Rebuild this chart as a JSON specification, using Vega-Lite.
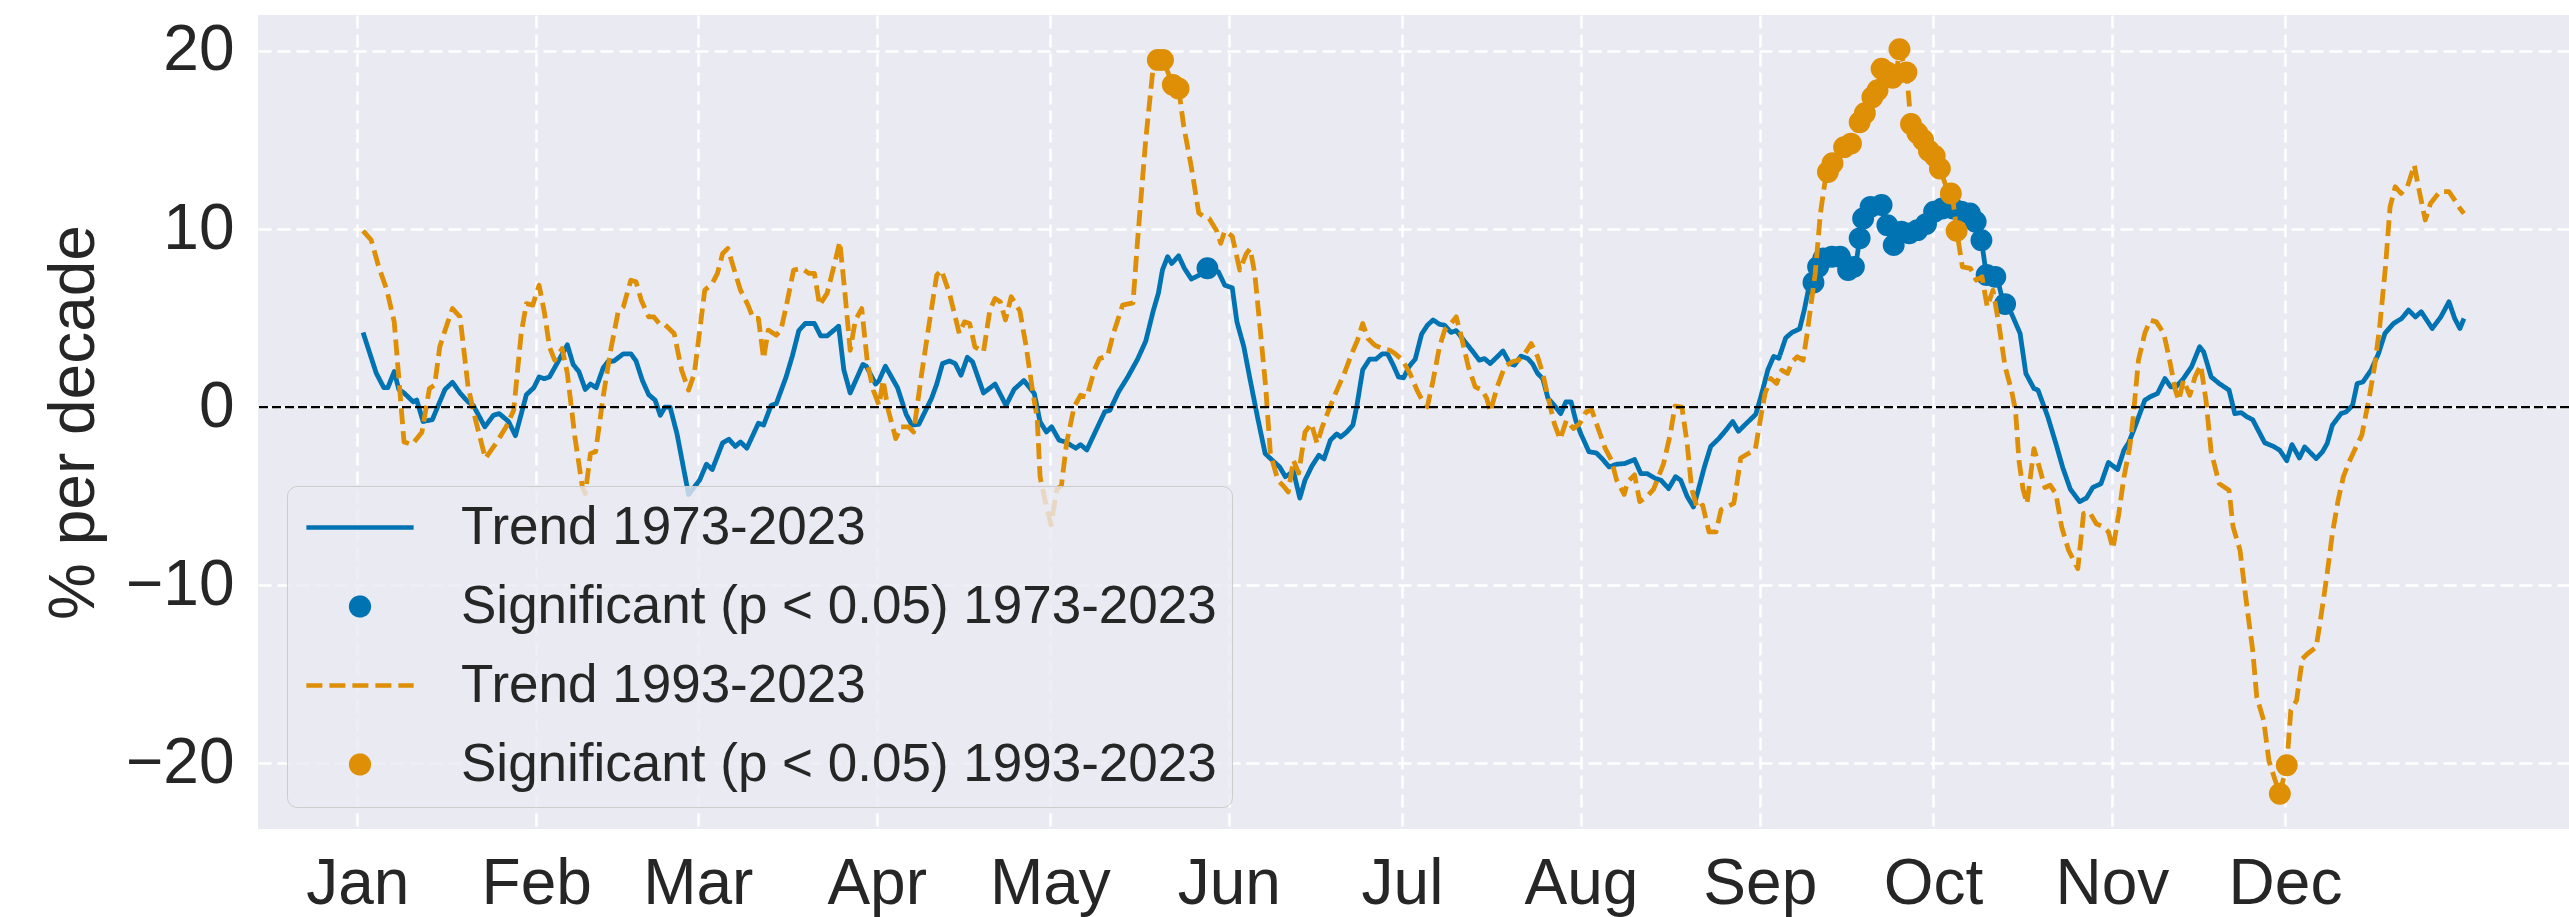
{
"$schema": "https://vega.github.io/schema/vega-lite/v6.json",
"autosize": {"type": "none"},
"width": 2311,
"height": 814,
"padding": {"left": 258, "top": 15, "right": 0, "bottom": 88},
"background": "white",
"config": {
  "view": {"fill": "#EAEAF2", "stroke": null},
  "font": "Liberation Sans"
},
"title": {"text": "b) Daily trends (relative) in precipitation, averaged", "anchor": "start", "frame": "group", "dx": 35, "offset": 19, "baseline": "alphabetic", "fontSize": 81, "font": "Liberation Sans", "fontWeight": "normal", "color": "#262626"},
"datasets": {
"trend73": [
{"day":1,"pct":4.2,"series":"Trend 1973-2023"},{"day":3.3,"pct":1.9,"series":"Trend 1973-2023"},{"day":4.6,"pct":1.1,"series":"Trend 1973-2023"},{"day":5.3,"pct":1.1,"series":"Trend 1973-2023"},{"day":6.4,"pct":2.0,"series":"Trend 1973-2023"},{"day":7.2,"pct":1.0,"series":"Trend 1973-2023"},{"day":8.1,"pct":0.8,"series":"Trend 1973-2023"},{"day":9.7,"pct":0.3,"series":"Trend 1973-2023"},{"day":10.3,"pct":0.4,"series":"Trend 1973-2023"},{"day":11.4,"pct":-0.8,"series":"Trend 1973-2023"},{"day":13,"pct":-0.7,"series":"Trend 1973-2023"},{"day":15.2,"pct":1.0,"series":"Trend 1973-2023"},{"day":16.5,"pct":1.4,"series":"Trend 1973-2023"},{"day":17.8,"pct":0.8,"series":"Trend 1973-2023"},{"day":19.2,"pct":0.3,"series":"Trend 1973-2023"},{"day":20.1,"pct":0.1,"series":"Trend 1973-2023"},{"day":22.1,"pct":-1.1,"series":"Trend 1973-2023"},{"day":23.6,"pct":-0.45,"series":"Trend 1973-2023"},{"day":24.6,"pct":-0.36,"series":"Trend 1973-2023"},{"day":26.2,"pct":-0.8,"series":"Trend 1973-2023"},{"day":27.4,"pct":-1.6,"series":"Trend 1973-2023"},{"day":29.3,"pct":0.7,"series":"Trend 1973-2023"},{"day":30.6,"pct":1.1,"series":"Trend 1973-2023"},{"day":31.5,"pct":1.7,"series":"Trend 1973-2023"},{"day":32.4,"pct":1.6,"series":"Trend 1973-2023"},{"day":33.3,"pct":1.7,"series":"Trend 1973-2023"},{"day":36.4,"pct":3.5,"series":"Trend 1973-2023"},{"day":37.4,"pct":2.4,"series":"Trend 1973-2023"},{"day":38.4,"pct":2.0,"series":"Trend 1973-2023"},{"day":39.5,"pct":1.0,"series":"Trend 1973-2023"},{"day":40.4,"pct":1.3,"series":"Trend 1973-2023"},{"day":41.4,"pct":1.1,"series":"Trend 1973-2023"},{"day":42.6,"pct":2.2,"series":"Trend 1973-2023"},{"day":43.4,"pct":2.55,"series":"Trend 1973-2023"},{"day":44.5,"pct":2.6,"series":"Trend 1973-2023"},{"day":46.1,"pct":3.0,"series":"Trend 1973-2023"},{"day":47.4,"pct":3.0,"series":"Trend 1973-2023"},{"day":48.3,"pct":2.6,"series":"Trend 1973-2023"},{"day":49.4,"pct":1.5,"series":"Trend 1973-2023"},{"day":50.5,"pct":0.7,"series":"Trend 1973-2023"},{"day":51.6,"pct":0.4,"series":"Trend 1973-2023"},{"day":52.5,"pct":-0.45,"series":"Trend 1973-2023"},{"day":53.3,"pct":0,"series":"Trend 1973-2023"},{"day":54.2,"pct":0,"series":"Trend 1973-2023"},{"day":55.4,"pct":-1.5,"series":"Trend 1973-2023"},{"day":57.4,"pct":-4.9,"series":"Trend 1973-2023"},{"day":59.3,"pct":-4.1,"series":"Trend 1973-2023"},{"day":60.5,"pct":-3.2,"series":"Trend 1973-2023"},{"day":61.5,"pct":-3.5,"series":"Trend 1973-2023"},{"day":63.3,"pct":-2.0,"series":"Trend 1973-2023"},{"day":64.4,"pct":-1.8,"series":"Trend 1973-2023"},{"day":65.5,"pct":-2.2,"series":"Trend 1973-2023"},{"day":66.4,"pct":-1.95,"series":"Trend 1973-2023"},{"day":67.5,"pct":-2.3,"series":"Trend 1973-2023"},{"day":69.5,"pct":-0.9,"series":"Trend 1973-2023"},{"day":70.4,"pct":-1.0,"series":"Trend 1973-2023"},{"day":71.7,"pct":0.1,"series":"Trend 1973-2023"},{"day":72.6,"pct":0.2,"series":"Trend 1973-2023"},{"day":74.3,"pct":1.7,"series":"Trend 1973-2023"},{"day":75.4,"pct":2.9,"series":"Trend 1973-2023"},{"day":76.5,"pct":4.3,"series":"Trend 1973-2023"},{"day":77.6,"pct":4.7,"series":"Trend 1973-2023"},{"day":79.2,"pct":4.7,"series":"Trend 1973-2023"},{"day":80.3,"pct":4.0,"series":"Trend 1973-2023"},{"day":81.4,"pct":4.0,"series":"Trend 1973-2023"},{"day":83.4,"pct":4.55,"series":"Trend 1973-2023"},{"day":84.3,"pct":2.1,"series":"Trend 1973-2023"},{"day":85.4,"pct":0.8,"series":"Trend 1973-2023"},{"day":87.6,"pct":2.4,"series":"Trend 1973-2023"},{"day":88.2,"pct":2.3,"series":"Trend 1973-2023"},{"day":89.8,"pct":1.3,"series":"Trend 1973-2023"},{"day":90.4,"pct":1.5,"series":"Trend 1973-2023"},{"day":91.5,"pct":2.3,"series":"Trend 1973-2023"},{"day":93.6,"pct":1.1,"series":"Trend 1973-2023"},{"day":95.1,"pct":-0.4,"series":"Trend 1973-2023"},{"day":96.1,"pct":-1.0,"series":"Trend 1973-2023"},{"day":97.3,"pct":-0.96,"series":"Trend 1973-2023"},{"day":99.5,"pct":0.5,"series":"Trend 1973-2023"},{"day":100.4,"pct":1.3,"series":"Trend 1973-2023"},{"day":101.4,"pct":2.45,"series":"Trend 1973-2023"},{"day":102.6,"pct":2.6,"series":"Trend 1973-2023"},{"day":103.6,"pct":2.45,"series":"Trend 1973-2023"},{"day":104.6,"pct":1.8,"series":"Trend 1973-2023"},{"day":105.7,"pct":2.8,"series":"Trend 1973-2023"},{"day":106.6,"pct":2.55,"series":"Trend 1973-2023"},{"day":108.5,"pct":0.8,"series":"Trend 1973-2023"},{"day":110.5,"pct":1.3,"series":"Trend 1973-2023"},{"day":112.4,"pct":0.1,"series":"Trend 1973-2023"},{"day":113.8,"pct":1.0,"series":"Trend 1973-2023"},{"day":115.5,"pct":1.5,"series":"Trend 1973-2023"},{"day":117.3,"pct":0.77,"series":"Trend 1973-2023"},{"day":118.3,"pct":-0.82,"series":"Trend 1973-2023"},{"day":119.4,"pct":-1.39,"series":"Trend 1973-2023"},{"day":120.3,"pct":-1.1,"series":"Trend 1973-2023"},{"day":121.6,"pct":-1.85,"series":"Trend 1973-2023"},{"day":122.7,"pct":-1.95,"series":"Trend 1973-2023"},{"day":124.5,"pct":-2.3,"series":"Trend 1973-2023"},{"day":125.3,"pct":-2.1,"series":"Trend 1973-2023"},{"day":126.4,"pct":-2.4,"series":"Trend 1973-2023"},{"day":127.7,"pct":-1.5,"series":"Trend 1973-2023"},{"day":129.5,"pct":-0.26,"series":"Trend 1973-2023"},{"day":130.4,"pct":-0.17,"series":"Trend 1973-2023"},{"day":131.9,"pct":0.86,"series":"Trend 1973-2023"},{"day":133.5,"pct":1.7,"series":"Trend 1973-2023"},{"day":135.2,"pct":2.7,"series":"Trend 1973-2023"},{"day":136.6,"pct":3.7,"series":"Trend 1973-2023"},{"day":137.9,"pct":5.4,"series":"Trend 1973-2023"},{"day":138.8,"pct":6.4,"series":"Trend 1973-2023"},{"day":139.5,"pct":7.7,"series":"Trend 1973-2023"},{"day":140.4,"pct":8.45,"series":"Trend 1973-2023"},{"day":141.1,"pct":8.07,"series":"Trend 1973-2023"},{"day":142.3,"pct":8.5,"series":"Trend 1973-2023"},{"day":143.3,"pct":7.8,"series":"Trend 1973-2023"},{"day":144.5,"pct":7.2,"series":"Trend 1973-2023"},{"day":145.8,"pct":7.4,"series":"Trend 1973-2023"},{"day":147.3,"pct":7.8,"series":"Trend 1973-2023"},{"day":149.2,"pct":7.6,"series":"Trend 1973-2023"},{"day":150.3,"pct":6.85,"series":"Trend 1973-2023"},{"day":151.6,"pct":6.7,"series":"Trend 1973-2023"},{"day":152.4,"pct":4.8,"series":"Trend 1973-2023"},{"day":153.6,"pct":3.4,"series":"Trend 1973-2023"},{"day":154.6,"pct":1.7,"series":"Trend 1973-2023"},{"day":156,"pct":-0.6,"series":"Trend 1973-2023"},{"day":157.3,"pct":-2.6,"series":"Trend 1973-2023"},{"day":158.6,"pct":-3.0,"series":"Trend 1973-2023"},{"day":159.8,"pct":-3.35,"series":"Trend 1973-2023"},{"day":160.8,"pct":-3.9,"series":"Trend 1973-2023"},{"day":162.2,"pct":-3.6,"series":"Trend 1973-2023"},{"day":163.3,"pct":-5.1,"series":"Trend 1973-2023"},{"day":164.2,"pct":-4.1,"series":"Trend 1973-2023"},{"day":165.4,"pct":-3.3,"series":"Trend 1973-2023"},{"day":166.6,"pct":-2.7,"series":"Trend 1973-2023"},{"day":167.5,"pct":-2.9,"series":"Trend 1973-2023"},{"day":168.6,"pct":-1.85,"series":"Trend 1973-2023"},{"day":169.7,"pct":-1.5,"series":"Trend 1973-2023"},{"day":170.4,"pct":-1.67,"series":"Trend 1973-2023"},{"day":171.4,"pct":-1.4,"series":"Trend 1973-2023"},{"day":172.5,"pct":-1.0,"series":"Trend 1973-2023"},{"day":173.2,"pct":0.1,"series":"Trend 1973-2023"},{"day":174.2,"pct":2.1,"series":"Trend 1973-2023"},{"day":175.4,"pct":2.7,"series":"Trend 1973-2023"},{"day":176.5,"pct":2.7,"series":"Trend 1973-2023"},{"day":177.6,"pct":3.0,"series":"Trend 1973-2023"},{"day":178.5,"pct":3.0,"series":"Trend 1973-2023"},{"day":179.5,"pct":2.36,"series":"Trend 1973-2023"},{"day":180.4,"pct":1.7,"series":"Trend 1973-2023"},{"day":181.3,"pct":1.65,"series":"Trend 1973-2023"},{"day":182.2,"pct":2.27,"series":"Trend 1973-2023"},{"day":183.3,"pct":2.7,"series":"Trend 1973-2023"},{"day":184.4,"pct":4.1,"series":"Trend 1973-2023"},{"day":185.4,"pct":4.6,"series":"Trend 1973-2023"},{"day":186.4,"pct":4.9,"series":"Trend 1973-2023"},{"day":187.5,"pct":4.66,"series":"Trend 1973-2023"},{"day":188.4,"pct":4.6,"series":"Trend 1973-2023"},{"day":189.5,"pct":4.2,"series":"Trend 1973-2023"},{"day":190.4,"pct":4.3,"series":"Trend 1973-2023"},{"day":191.7,"pct":3.76,"series":"Trend 1973-2023"},{"day":193.1,"pct":3.2,"series":"Trend 1973-2023"},{"day":194.4,"pct":2.64,"series":"Trend 1973-2023"},{"day":195.3,"pct":2.73,"series":"Trend 1973-2023"},{"day":196.3,"pct":2.45,"series":"Trend 1973-2023"},{"day":197.5,"pct":2.83,"series":"Trend 1973-2023"},{"day":198.5,"pct":3.16,"series":"Trend 1973-2023"},{"day":199.7,"pct":2.45,"series":"Trend 1973-2023"},{"day":200.5,"pct":2.36,"series":"Trend 1973-2023"},{"day":201.6,"pct":2.87,"series":"Trend 1973-2023"},{"day":202.8,"pct":2.73,"series":"Trend 1973-2023"},{"day":203.6,"pct":2.45,"series":"Trend 1973-2023"},{"day":204.5,"pct":1.9,"series":"Trend 1973-2023"},{"day":205.4,"pct":1.6,"series":"Trend 1973-2023"},{"day":206.3,"pct":0.5,"series":"Trend 1973-2023"},{"day":207.4,"pct":0.1,"series":"Trend 1973-2023"},{"day":208.5,"pct":-0.36,"series":"Trend 1973-2023"},{"day":209.4,"pct":0.3,"series":"Trend 1973-2023"},{"day":210.3,"pct":0.3,"series":"Trend 1973-2023"},{"day":211.1,"pct":-0.73,"series":"Trend 1973-2023"},{"day":212,"pct":-1.5,"series":"Trend 1973-2023"},{"day":213.4,"pct":-2.5,"series":"Trend 1973-2023"},{"day":214.7,"pct":-2.57,"series":"Trend 1973-2023"},{"day":215.7,"pct":-2.9,"series":"Trend 1973-2023"},{"day":216.9,"pct":-3.35,"series":"Trend 1973-2023"},{"day":218.2,"pct":-3.2,"series":"Trend 1973-2023"},{"day":219.6,"pct":-3.16,"series":"Trend 1973-2023"},{"day":221.3,"pct":-2.94,"series":"Trend 1973-2023"},{"day":222.4,"pct":-3.73,"series":"Trend 1973-2023"},{"day":223.5,"pct":-3.73,"series":"Trend 1973-2023"},{"day":224.9,"pct":-4.0,"series":"Trend 1973-2023"},{"day":225.9,"pct":-4.1,"series":"Trend 1973-2023"},{"day":227.2,"pct":-4.57,"series":"Trend 1973-2023"},{"day":228.4,"pct":-3.9,"series":"Trend 1973-2023"},{"day":229.3,"pct":-4.1,"series":"Trend 1973-2023"},{"day":230.4,"pct":-5.0,"series":"Trend 1973-2023"},{"day":231.5,"pct":-5.6,"series":"Trend 1973-2023"},{"day":232.3,"pct":-4.7,"series":"Trend 1973-2023"},{"day":233.4,"pct":-3.35,"series":"Trend 1973-2023"},{"day":234.5,"pct":-2.2,"series":"Trend 1973-2023"},{"day":235.9,"pct":-1.76,"series":"Trend 1973-2023"},{"day":237.1,"pct":-1.3,"series":"Trend 1973-2023"},{"day":238.3,"pct":-0.8,"series":"Trend 1973-2023"},{"day":239.3,"pct":-1.35,"series":"Trend 1973-2023"},{"day":240.7,"pct":-0.9,"series":"Trend 1973-2023"},{"day":242.3,"pct":-0.4,"series":"Trend 1973-2023"},{"day":243.2,"pct":0.6,"series":"Trend 1973-2023"},{"day":244.4,"pct":2.1,"series":"Trend 1973-2023"},{"day":245.4,"pct":2.85,"series":"Trend 1973-2023"},{"day":246.3,"pct":2.75,"series":"Trend 1973-2023"},{"day":247.5,"pct":3.9,"series":"Trend 1973-2023"},{"day":248.6,"pct":4.2,"series":"Trend 1973-2023"},{"day":249.9,"pct":4.4,"series":"Trend 1973-2023"},{"day":250.7,"pct":5.45,"series":"Trend 1973-2023"},{"day":251.4,"pct":6.57,"series":"Trend 1973-2023"},{"day":252.3,"pct":7.04,"series":"Trend 1973-2023"},{"day":253.1,"pct":7.79,"series":"Trend 1973-2023"},{"day":254.3,"pct":8.35,"series":"Trend 1973-2023"},{"day":256.4,"pct":8.45,"series":"Trend 1973-2023"},{"day":257.6,"pct":8.35,"series":"Trend 1973-2023"},{"day":258.3,"pct":7.51,"series":"Trend 1973-2023"},{"day":259.6,"pct":7.88,"series":"Trend 1973-2023"},{"day":260.3,"pct":9.48,"series":"Trend 1973-2023"},{"day":261.1,"pct":10.69,"series":"Trend 1973-2023"},{"day":262.2,"pct":11.25,"series":"Trend 1973-2023"},{"day":264.1,"pct":11.35,"series":"Trend 1973-2023"},{"day":265.1,"pct":10.13,"series":"Trend 1973-2023"},{"day":266,"pct":9.1,"series":"Trend 1973-2023"},{"day":267,"pct":9.94,"series":"Trend 1973-2023"},{"day":268.7,"pct":9.76,"series":"Trend 1973-2023"},{"day":270.3,"pct":9.94,"series":"Trend 1973-2023"},{"day":271.8,"pct":10.22,"series":"Trend 1973-2023"},{"day":272.7,"pct":10.88,"series":"Trend 1973-2023"},{"day":274.2,"pct":11.16,"series":"Trend 1973-2023"},{"day":276.1,"pct":11.07,"series":"Trend 1973-2023"},{"day":277.3,"pct":10.69,"series":"Trend 1973-2023"},{"day":279,"pct":10.88,"series":"Trend 1973-2023"},{"day":280.4,"pct":10.41,"series":"Trend 1973-2023"},{"day":281.4,"pct":9.38,"series":"Trend 1973-2023"},{"day":282.3,"pct":7.32,"series":"Trend 1973-2023"},{"day":284.1,"pct":7.32,"series":"Trend 1973-2023"},{"day":285.2,"pct":5.82,"series":"Trend 1973-2023"},{"day":286.6,"pct":5.26,"series":"Trend 1973-2023"},{"day":288.1,"pct":4.14,"series":"Trend 1973-2023"},{"day":289.1,"pct":1.89,"series":"Trend 1973-2023"},{"day":290.5,"pct":1.05,"series":"Trend 1973-2023"},{"day":291.2,"pct":0.96,"series":"Trend 1973-2023"},{"day":292.9,"pct":-0.54,"series":"Trend 1973-2023"},{"day":294.3,"pct":-2.04,"series":"Trend 1973-2023"},{"day":295.5,"pct":-3.4,"series":"Trend 1973-2023"},{"day":296.8,"pct":-4.6,"series":"Trend 1973-2023"},{"day":298.4,"pct":-5.3,"series":"Trend 1973-2023"},{"day":299.6,"pct":-5.1,"series":"Trend 1973-2023"},{"day":300.7,"pct":-4.5,"series":"Trend 1973-2023"},{"day":302.1,"pct":-4.3,"series":"Trend 1973-2023"},{"day":303.4,"pct":-3.1,"series":"Trend 1973-2023"},{"day":305,"pct":-3.5,"series":"Trend 1973-2023"},{"day":306.1,"pct":-2.4,"series":"Trend 1973-2023"},{"day":306.9,"pct":-2.0,"series":"Trend 1973-2023"},{"day":308,"pct":-1.1,"series":"Trend 1973-2023"},{"day":309.7,"pct":0.39,"series":"Trend 1973-2023"},{"day":310.6,"pct":0.58,"series":"Trend 1973-2023"},{"day":311.9,"pct":0.77,"series":"Trend 1973-2023"},{"day":313.2,"pct":1.61,"series":"Trend 1973-2023"},{"day":314.2,"pct":1.14,"series":"Trend 1973-2023"},{"day":315.1,"pct":1.14,"series":"Trend 1973-2023"},{"day":316.4,"pct":1.61,"series":"Trend 1973-2023"},{"day":317.8,"pct":2.27,"series":"Trend 1973-2023"},{"day":319.2,"pct":3.39,"series":"Trend 1973-2023"},{"day":319.9,"pct":3.11,"series":"Trend 1973-2023"},{"day":321.2,"pct":1.7,"series":"Trend 1973-2023"},{"day":322.6,"pct":1.33,"series":"Trend 1973-2023"},{"day":324.3,"pct":0.96,"series":"Trend 1973-2023"},{"day":325.3,"pct":-0.36,"series":"Trend 1973-2023"},{"day":326.4,"pct":-0.3,"series":"Trend 1973-2023"},{"day":327.4,"pct":-0.54,"series":"Trend 1973-2023"},{"day":328.4,"pct":-0.7,"series":"Trend 1973-2023"},{"day":329.5,"pct":-1.39,"series":"Trend 1973-2023"},{"day":330.5,"pct":-2.0,"series":"Trend 1973-2023"},{"day":332,"pct":-2.2,"series":"Trend 1973-2023"},{"day":333.1,"pct":-2.42,"series":"Trend 1973-2023"},{"day":334.3,"pct":-3.0,"series":"Trend 1973-2023"},{"day":335.2,"pct":-2.1,"series":"Trend 1973-2023"},{"day":336.5,"pct":-2.85,"series":"Trend 1973-2023"},{"day":337.4,"pct":-2.23,"series":"Trend 1973-2023"},{"day":339.4,"pct":-2.88,"series":"Trend 1973-2023"},{"day":340.5,"pct":-2.5,"series":"Trend 1973-2023"},{"day":341.3,"pct":-2.04,"series":"Trend 1973-2023"},{"day":342.2,"pct":-1.01,"series":"Trend 1973-2023"},{"day":343.7,"pct":-0.36,"series":"Trend 1973-2023"},{"day":344.6,"pct":-0.26,"series":"Trend 1973-2023"},{"day":345.7,"pct":0.11,"series":"Trend 1973-2023"},{"day":346.5,"pct":1.33,"series":"Trend 1973-2023"},{"day":347.5,"pct":1.42,"series":"Trend 1973-2023"},{"day":348.9,"pct":2.08,"series":"Trend 1973-2023"},{"day":350.2,"pct":3.01,"series":"Trend 1973-2023"},{"day":351.3,"pct":4.14,"series":"Trend 1973-2023"},{"day":352.8,"pct":4.7,"series":"Trend 1973-2023"},{"day":354.2,"pct":4.98,"series":"Trend 1973-2023"},{"day":355.4,"pct":5.45,"series":"Trend 1973-2023"},{"day":356.6,"pct":5.07,"series":"Trend 1973-2023"},{"day":357.6,"pct":5.36,"series":"Trend 1973-2023"},{"day":359.5,"pct":4.42,"series":"Trend 1973-2023"},{"day":361,"pct":5.07,"series":"Trend 1973-2023"},{"day":362.4,"pct":5.92,"series":"Trend 1973-2023"},{"day":363.4,"pct":4.98,"series":"Trend 1973-2023"},{"day":364.3,"pct":4.42,"series":"Trend 1973-2023"},{"day":365,"pct":4.98,"series":"Trend 1973-2023"}
],
"trend93": [
{"day":1,"pct":9.9,"series":"Trend 1993-2023"},{"day":2.4,"pct":9.4,"series":"Trend 1993-2023"},{"day":3.7,"pct":7.9,"series":"Trend 1993-2023"},{"day":5.1,"pct":6.6,"series":"Trend 1993-2023"},{"day":6.4,"pct":4.8,"series":"Trend 1993-2023"},{"day":8.1,"pct":-1.95,"series":"Trend 1993-2023"},{"day":9.5,"pct":-2.1,"series":"Trend 1993-2023"},{"day":11.2,"pct":-1.4,"series":"Trend 1993-2023"},{"day":12.5,"pct":1.05,"series":"Trend 1993-2023"},{"day":13.4,"pct":1.24,"series":"Trend 1993-2023"},{"day":14.3,"pct":3.4,"series":"Trend 1993-2023"},{"day":15.6,"pct":4.7,"series":"Trend 1993-2023"},{"day":16.5,"pct":5.54,"series":"Trend 1993-2023"},{"day":17.8,"pct":5.07,"series":"Trend 1993-2023"},{"day":19.2,"pct":1.14,"series":"Trend 1993-2023"},{"day":20.5,"pct":-0.73,"series":"Trend 1993-2023"},{"day":22.2,"pct":-2.88,"series":"Trend 1993-2023"},{"day":24,"pct":-2.04,"series":"Trend 1993-2023"},{"day":25.8,"pct":-1.1,"series":"Trend 1993-2023"},{"day":27.1,"pct":-0.17,"series":"Trend 1993-2023"},{"day":28.4,"pct":4.14,"series":"Trend 1993-2023"},{"day":29.3,"pct":5.82,"series":"Trend 1993-2023"},{"day":30.4,"pct":5.73,"series":"Trend 1993-2023"},{"day":31.5,"pct":6.85,"series":"Trend 1993-2023"},{"day":32.4,"pct":5.36,"series":"Trend 1993-2023"},{"day":33.3,"pct":3.39,"series":"Trend 1993-2023"},{"day":34.2,"pct":2.64,"series":"Trend 1993-2023"},{"day":35.5,"pct":3.3,"series":"Trend 1993-2023"},{"day":36.4,"pct":1.89,"series":"Trend 1993-2023"},{"day":37.7,"pct":-1.67,"series":"Trend 1993-2023"},{"day":39,"pct":-4.48,"series":"Trend 1993-2023"},{"day":39.5,"pct":-4.85,"series":"Trend 1993-2023"},{"day":40.4,"pct":-2.6,"series":"Trend 1993-2023"},{"day":41.3,"pct":-2.5,"series":"Trend 1993-2023"},{"day":42.6,"pct":0.58,"series":"Trend 1993-2023"},{"day":43.9,"pct":3.2,"series":"Trend 1993-2023"},{"day":45.2,"pct":5.36,"series":"Trend 1993-2023"},{"day":46.1,"pct":5.64,"series":"Trend 1993-2023"},{"day":47.4,"pct":7.13,"series":"Trend 1993-2023"},{"day":48.3,"pct":7.04,"series":"Trend 1993-2023"},{"day":49.2,"pct":6.01,"series":"Trend 1993-2023"},{"day":50.5,"pct":5.07,"series":"Trend 1993-2023"},{"day":51.4,"pct":5.07,"series":"Trend 1993-2023"},{"day":52.3,"pct":4.7,"series":"Trend 1993-2023"},{"day":53.1,"pct":4.7,"series":"Trend 1993-2023"},{"day":54.9,"pct":4.14,"series":"Trend 1993-2023"},{"day":56.2,"pct":2.08,"series":"Trend 1993-2023"},{"day":57.4,"pct":0.96,"series":"Trend 1993-2023"},{"day":58.4,"pct":1.89,"series":"Trend 1993-2023"},{"day":60.2,"pct":6.57,"series":"Trend 1993-2023"},{"day":61.5,"pct":6.95,"series":"Trend 1993-2023"},{"day":62.4,"pct":7.51,"series":"Trend 1993-2023"},{"day":63.3,"pct":8.63,"series":"Trend 1993-2023"},{"day":64.2,"pct":8.91,"series":"Trend 1993-2023"},{"day":65.5,"pct":7.51,"series":"Trend 1993-2023"},{"day":66.4,"pct":6.57,"series":"Trend 1993-2023"},{"day":67.7,"pct":5.73,"series":"Trend 1993-2023"},{"day":68.6,"pct":4.98,"series":"Trend 1993-2023"},{"day":69.5,"pct":4.98,"series":"Trend 1993-2023"},{"day":70.4,"pct":2.73,"series":"Trend 1993-2023"},{"day":71.2,"pct":4.33,"series":"Trend 1993-2023"},{"day":72.6,"pct":4.04,"series":"Trend 1993-2023"},{"day":73.4,"pct":4.33,"series":"Trend 1993-2023"},{"day":74.3,"pct":5.64,"series":"Trend 1993-2023"},{"day":75.6,"pct":7.7,"series":"Trend 1993-2023"},{"day":77,"pct":7.79,"series":"Trend 1993-2023"},{"day":78.3,"pct":7.51,"series":"Trend 1993-2023"},{"day":79.2,"pct":7.51,"series":"Trend 1993-2023"},{"day":80.1,"pct":5.73,"series":"Trend 1993-2023"},{"day":81.4,"pct":6.39,"series":"Trend 1993-2023"},{"day":82.7,"pct":8.07,"series":"Trend 1993-2023"},{"day":83.6,"pct":9.29,"series":"Trend 1993-2023"},{"day":84.5,"pct":6.39,"series":"Trend 1993-2023"},{"day":85.4,"pct":3.2,"series":"Trend 1993-2023"},{"day":86.3,"pct":4.89,"series":"Trend 1993-2023"},{"day":87.4,"pct":5.54,"series":"Trend 1993-2023"},{"day":88.4,"pct":2.45,"series":"Trend 1993-2023"},{"day":89.4,"pct":0.96,"series":"Trend 1993-2023"},{"day":90.4,"pct":0.11,"series":"Trend 1993-2023"},{"day":91.1,"pct":1.52,"series":"Trend 1993-2023"},{"day":92,"pct":-0.17,"series":"Trend 1993-2023"},{"day":93.3,"pct":-1.76,"series":"Trend 1993-2023"},{"day":94.2,"pct":-1.1,"series":"Trend 1993-2023"},{"day":95.5,"pct":-1.1,"series":"Trend 1993-2023"},{"day":96.4,"pct":-1.39,"series":"Trend 1993-2023"},{"day":97.7,"pct":1.7,"series":"Trend 1993-2023"},{"day":99,"pct":4.51,"series":"Trend 1993-2023"},{"day":100.4,"pct":7.42,"series":"Trend 1993-2023"},{"day":101.2,"pct":7.7,"series":"Trend 1993-2023"},{"day":102.6,"pct":6.39,"series":"Trend 1993-2023"},{"day":104.3,"pct":4.14,"series":"Trend 1993-2023"},{"day":105.2,"pct":4.79,"series":"Trend 1993-2023"},{"day":106.1,"pct":4.7,"series":"Trend 1993-2023"},{"day":107,"pct":3.39,"series":"Trend 1993-2023"},{"day":108.5,"pct":3.11,"series":"Trend 1993-2023"},{"day":109.6,"pct":5.45,"series":"Trend 1993-2023"},{"day":110.5,"pct":6.1,"series":"Trend 1993-2023"},{"day":111.4,"pct":5.92,"series":"Trend 1993-2023"},{"day":112.3,"pct":4.9,"series":"Trend 1993-2023"},{"day":113.3,"pct":6.2,"series":"Trend 1993-2023"},{"day":114.8,"pct":5.4,"series":"Trend 1993-2023"},{"day":115.9,"pct":3.39,"series":"Trend 1993-2023"},{"day":116.9,"pct":1.14,"series":"Trend 1993-2023"},{"day":117.8,"pct":-0.64,"series":"Trend 1993-2023"},{"day":118.3,"pct":-3.9,"series":"Trend 1993-2023"},{"day":119.2,"pct":-5.3,"series":"Trend 1993-2023"},{"day":120.2,"pct":-6.6,"series":"Trend 1993-2023"},{"day":121.2,"pct":-4.6,"series":"Trend 1993-2023"},{"day":122,"pct":-4.4,"series":"Trend 1993-2023"},{"day":122.9,"pct":-2.0,"series":"Trend 1993-2023"},{"day":124.2,"pct":0.02,"series":"Trend 1993-2023"},{"day":125.3,"pct":0.67,"series":"Trend 1993-2023"},{"day":126.4,"pct":0.58,"series":"Trend 1993-2023"},{"day":127.7,"pct":2.08,"series":"Trend 1993-2023"},{"day":128.6,"pct":2.73,"series":"Trend 1993-2023"},{"day":130,"pct":2.87,"series":"Trend 1993-2023"},{"day":131,"pct":4.14,"series":"Trend 1993-2023"},{"day":132.6,"pct":5.73,"series":"Trend 1993-2023"},{"day":134.4,"pct":5.86,"series":"Trend 1993-2023"},{"day":135.2,"pct":9.38,"series":"Trend 1993-2023"},{"day":136.6,"pct":15.0,"series":"Trend 1993-2023"},{"day":137.9,"pct":19.1,"series":"Trend 1993-2023"},{"day":138.7,"pct":19.5,"series":"Trend 1993-2023"},{"day":139.6,"pct":19.5,"series":"Trend 1993-2023"},{"day":141.3,"pct":18.1,"series":"Trend 1993-2023"},{"day":142.3,"pct":17.9,"series":"Trend 1993-2023"},{"day":143.2,"pct":15.75,"series":"Trend 1993-2023"},{"day":144.5,"pct":13.5,"series":"Trend 1993-2023"},{"day":145.8,"pct":10.9,"series":"Trend 1993-2023"},{"day":146.7,"pct":10.7,"series":"Trend 1993-2023"},{"day":147.6,"pct":10.6,"series":"Trend 1993-2023"},{"day":148.9,"pct":9.9,"series":"Trend 1993-2023"},{"day":149.6,"pct":9.2,"series":"Trend 1993-2023"},{"day":150.3,"pct":9.9,"series":"Trend 1993-2023"},{"day":151.6,"pct":9.6,"series":"Trend 1993-2023"},{"day":152.9,"pct":7.7,"series":"Trend 1993-2023"},{"day":154,"pct":8.6,"series":"Trend 1993-2023"},{"day":154.7,"pct":8.9,"series":"Trend 1993-2023"},{"day":155.5,"pct":7.5,"series":"Trend 1993-2023"},{"day":156.4,"pct":4.5,"series":"Trend 1993-2023"},{"day":157.4,"pct":1.1,"series":"Trend 1993-2023"},{"day":158.2,"pct":-2.6,"series":"Trend 1993-2023"},{"day":159.5,"pct":-4.1,"series":"Trend 1993-2023"},{"day":160.4,"pct":-4.4,"series":"Trend 1993-2023"},{"day":161.3,"pct":-4.76,"series":"Trend 1993-2023"},{"day":162.2,"pct":-2.98,"series":"Trend 1993-2023"},{"day":163.1,"pct":-3.7,"series":"Trend 1993-2023"},{"day":164.2,"pct":-1.4,"series":"Trend 1993-2023"},{"day":165.3,"pct":-0.92,"series":"Trend 1993-2023"},{"day":166.3,"pct":-2.04,"series":"Trend 1993-2023"},{"day":167.2,"pct":-1.1,"series":"Trend 1993-2023"},{"day":168.3,"pct":-0.17,"series":"Trend 1993-2023"},{"day":169.6,"pct":0.86,"series":"Trend 1993-2023"},{"day":171,"pct":1.89,"series":"Trend 1993-2023"},{"day":172.3,"pct":3.01,"series":"Trend 1993-2023"},{"day":173.3,"pct":3.76,"series":"Trend 1993-2023"},{"day":174.2,"pct":4.7,"series":"Trend 1993-2023"},{"day":175.1,"pct":3.86,"series":"Trend 1993-2023"},{"day":176.3,"pct":3.48,"series":"Trend 1993-2023"},{"day":177.6,"pct":3.3,"series":"Trend 1993-2023"},{"day":178.9,"pct":3.2,"series":"Trend 1993-2023"},{"day":179.8,"pct":3.01,"series":"Trend 1993-2023"},{"day":181.1,"pct":2.64,"series":"Trend 1993-2023"},{"day":182.4,"pct":1.89,"series":"Trend 1993-2023"},{"day":183.6,"pct":0.96,"series":"Trend 1993-2023"},{"day":184.5,"pct":0.39,"series":"Trend 1993-2023"},{"day":185.4,"pct":0.02,"series":"Trend 1993-2023"},{"day":186.4,"pct":1.52,"series":"Trend 1993-2023"},{"day":187.5,"pct":3.39,"series":"Trend 1993-2023"},{"day":188.4,"pct":4.33,"series":"Trend 1993-2023"},{"day":189.5,"pct":4.7,"series":"Trend 1993-2023"},{"day":190.4,"pct":5.07,"series":"Trend 1993-2023"},{"day":191.3,"pct":3.95,"series":"Trend 1993-2023"},{"day":192.5,"pct":2.27,"series":"Trend 1993-2023"},{"day":193.7,"pct":1.14,"series":"Trend 1993-2023"},{"day":194.9,"pct":0.96,"series":"Trend 1993-2023"},{"day":195.7,"pct":0.49,"series":"Trend 1993-2023"},{"day":196.3,"pct":-0.26,"series":"Trend 1993-2023"},{"day":197.5,"pct":1.14,"series":"Trend 1993-2023"},{"day":198.8,"pct":2.27,"series":"Trend 1993-2023"},{"day":200.1,"pct":2.55,"series":"Trend 1993-2023"},{"day":201.2,"pct":2.64,"series":"Trend 1993-2023"},{"day":202.3,"pct":3.01,"series":"Trend 1993-2023"},{"day":203.4,"pct":3.58,"series":"Trend 1993-2023"},{"day":204.5,"pct":2.83,"series":"Trend 1993-2023"},{"day":205.4,"pct":1.89,"series":"Trend 1993-2023"},{"day":206.3,"pct":0.58,"series":"Trend 1993-2023"},{"day":207.4,"pct":-0.92,"series":"Trend 1993-2023"},{"day":208.4,"pct":-1.8,"series":"Trend 1993-2023"},{"day":209.5,"pct":-0.73,"series":"Trend 1993-2023"},{"day":210.7,"pct":-1.2,"series":"Trend 1993-2023"},{"day":211.8,"pct":-0.92,"series":"Trend 1993-2023"},{"day":212.9,"pct":-0.26,"series":"Trend 1993-2023"},{"day":213.9,"pct":-0.17,"series":"Trend 1993-2023"},{"day":215.1,"pct":-1.29,"series":"Trend 1993-2023"},{"day":216.2,"pct":-2.3,"series":"Trend 1993-2023"},{"day":217.3,"pct":-2.98,"series":"Trend 1993-2023"},{"day":218.2,"pct":-4.1,"series":"Trend 1993-2023"},{"day":219.5,"pct":-4.9,"series":"Trend 1993-2023"},{"day":220.1,"pct":-4.19,"series":"Trend 1993-2023"},{"day":221.3,"pct":-3.8,"series":"Trend 1993-2023"},{"day":222.2,"pct":-5.3,"series":"Trend 1993-2023"},{"day":223.4,"pct":-5.04,"series":"Trend 1993-2023"},{"day":224.6,"pct":-4.6,"series":"Trend 1993-2023"},{"day":226.3,"pct":-3.2,"series":"Trend 1993-2023"},{"day":227.5,"pct":-1.5,"series":"Trend 1993-2023"},{"day":228.3,"pct":0.06,"series":"Trend 1993-2023"},{"day":229.5,"pct":0.0,"series":"Trend 1993-2023"},{"day":230.4,"pct":-2.0,"series":"Trend 1993-2023"},{"day":231.2,"pct":-4.6,"series":"Trend 1993-2023"},{"day":232.2,"pct":-5.7,"series":"Trend 1993-2023"},{"day":233.1,"pct":-5.5,"series":"Trend 1993-2023"},{"day":234.2,"pct":-7.0,"series":"Trend 1993-2023"},{"day":235.4,"pct":-7.0,"series":"Trend 1993-2023"},{"day":236.3,"pct":-5.75,"series":"Trend 1993-2023"},{"day":237.3,"pct":-5.6,"series":"Trend 1993-2023"},{"day":238.5,"pct":-5.4,"series":"Trend 1993-2023"},{"day":239.7,"pct":-2.85,"series":"Trend 1993-2023"},{"day":241,"pct":-2.6,"series":"Trend 1993-2023"},{"day":242.2,"pct":-2.4,"series":"Trend 1993-2023"},{"day":243.2,"pct":-0.5,"series":"Trend 1993-2023"},{"day":243.9,"pct":0.77,"series":"Trend 1993-2023"},{"day":244.9,"pct":1.61,"series":"Trend 1993-2023"},{"day":245.9,"pct":1.33,"series":"Trend 1993-2023"},{"day":246.8,"pct":2.08,"series":"Trend 1993-2023"},{"day":247.8,"pct":1.89,"series":"Trend 1993-2023"},{"day":248.6,"pct":2.55,"series":"Trend 1993-2023"},{"day":249.5,"pct":2.83,"series":"Trend 1993-2023"},{"day":250.5,"pct":2.64,"series":"Trend 1993-2023"},{"day":251.2,"pct":4.14,"series":"Trend 1993-2023"},{"day":252.6,"pct":7.51,"series":"Trend 1993-2023"},{"day":253.5,"pct":10.88,"series":"Trend 1993-2023"},{"day":254.5,"pct":13.13,"series":"Trend 1993-2023"},{"day":255.5,"pct":13.69,"series":"Trend 1993-2023"},{"day":256.9,"pct":14.06,"series":"Trend 1993-2023"},{"day":257.9,"pct":14.63,"series":"Trend 1993-2023"},{"day":258.8,"pct":14.72,"series":"Trend 1993-2023"},{"day":260.3,"pct":16.12,"series":"Trend 1993-2023"},{"day":261.2,"pct":16.5,"series":"Trend 1993-2023"},{"day":262.2,"pct":17.43,"series":"Trend 1993-2023"},{"day":263.2,"pct":17.72,"series":"Trend 1993-2023"},{"day":264.1,"pct":19.03,"series":"Trend 1993-2023"},{"day":265.5,"pct":18.65,"series":"Trend 1993-2023"},{"day":266.5,"pct":18.37,"series":"Trend 1993-2023"},{"day":267.2,"pct":20.06,"series":"Trend 1993-2023"},{"day":268.4,"pct":18.84,"series":"Trend 1993-2023"},{"day":269.2,"pct":15.94,"series":"Trend 1993-2023"},{"day":270.3,"pct":15.37,"series":"Trend 1993-2023"},{"day":271.3,"pct":15.0,"series":"Trend 1993-2023"},{"day":272.3,"pct":14.44,"series":"Trend 1993-2023"},{"day":273.3,"pct":14.06,"series":"Trend 1993-2023"},{"day":274.2,"pct":13.41,"series":"Trend 1993-2023"},{"day":275.4,"pct":12.28,"series":"Trend 1993-2023"},{"day":276.4,"pct":11.82,"series":"Trend 1993-2023"},{"day":277.1,"pct":9.94,"series":"Trend 1993-2023"},{"day":278.1,"pct":7.88,"series":"Trend 1993-2023"},{"day":279.5,"pct":7.79,"series":"Trend 1993-2023"},{"day":280.5,"pct":7.13,"series":"Trend 1993-2023"},{"day":281.5,"pct":7.32,"series":"Trend 1993-2023"},{"day":282.4,"pct":5.64,"series":"Trend 1993-2023"},{"day":283.4,"pct":6.57,"series":"Trend 1993-2023"},{"day":284.4,"pct":4.7,"series":"Trend 1993-2023"},{"day":285.5,"pct":2.27,"series":"Trend 1993-2023"},{"day":286.6,"pct":0.96,"series":"Trend 1993-2023"},{"day":287.3,"pct":-0.17,"series":"Trend 1993-2023"},{"day":287.9,"pct":-2.98,"series":"Trend 1993-2023"},{"day":288.6,"pct":-4.6,"series":"Trend 1993-2023"},{"day":289.3,"pct":-5.41,"series":"Trend 1993-2023"},{"day":290.5,"pct":-2.32,"series":"Trend 1993-2023"},{"day":291.5,"pct":-3.45,"series":"Trend 1993-2023"},{"day":292.4,"pct":-4.51,"series":"Trend 1993-2023"},{"day":293.3,"pct":-4.38,"series":"Trend 1993-2023"},{"day":294.3,"pct":-4.85,"series":"Trend 1993-2023"},{"day":295.3,"pct":-6.72,"series":"Trend 1993-2023"},{"day":296.5,"pct":-8.03,"series":"Trend 1993-2023"},{"day":298.1,"pct":-9.06,"series":"Trend 1993-2023"},{"day":299.1,"pct":-5.97,"series":"Trend 1993-2023"},{"day":300.1,"pct":-5.88,"series":"Trend 1993-2023"},{"day":301.3,"pct":-6.54,"series":"Trend 1993-2023"},{"day":302.5,"pct":-6.72,"series":"Trend 1993-2023"},{"day":303.4,"pct":-7.0,"series":"Trend 1993-2023"},{"day":304.2,"pct":-7.94,"series":"Trend 1993-2023"},{"day":305.2,"pct":-5.97,"series":"Trend 1993-2023"},{"day":306.1,"pct":-3.91,"series":"Trend 1993-2023"},{"day":307.1,"pct":-2.23,"series":"Trend 1993-2023"},{"day":307.7,"pct":-0.54,"series":"Trend 1993-2023"},{"day":308.6,"pct":2.64,"series":"Trend 1993-2023"},{"day":309.7,"pct":4.14,"series":"Trend 1993-2023"},{"day":310.6,"pct":4.89,"series":"Trend 1993-2023"},{"day":311.7,"pct":4.79,"series":"Trend 1993-2023"},{"day":313,"pct":4.14,"series":"Trend 1993-2023"},{"day":314,"pct":2.64,"series":"Trend 1993-2023"},{"day":315,"pct":0.96,"series":"Trend 1993-2023"},{"day":315.6,"pct":0.39,"series":"Trend 1993-2023"},{"day":316.4,"pct":1.52,"series":"Trend 1993-2023"},{"day":317.5,"pct":0.67,"series":"Trend 1993-2023"},{"day":318.4,"pct":1.7,"series":"Trend 1993-2023"},{"day":319.4,"pct":2.36,"series":"Trend 1993-2023"},{"day":320.3,"pct":0.39,"series":"Trend 1993-2023"},{"day":321.2,"pct":-2.5,"series":"Trend 1993-2023"},{"day":322.6,"pct":-4.29,"series":"Trend 1993-2023"},{"day":324.3,"pct":-4.66,"series":"Trend 1993-2023"},{"day":325,"pct":-6.72,"series":"Trend 1993-2023"},{"day":326.2,"pct":-8.03,"series":"Trend 1993-2023"},{"day":327.4,"pct":-11.2,"series":"Trend 1993-2023"},{"day":328.4,"pct":-13.65,"series":"Trend 1993-2023"},{"day":329.1,"pct":-16.27,"series":"Trend 1993-2023"},{"day":330.3,"pct":-17.58,"series":"Trend 1993-2023"},{"day":331.2,"pct":-19.83,"series":"Trend 1993-2023"},{"day":332.2,"pct":-20.86,"series":"Trend 1993-2023"},{"day":333.1,"pct":-21.7,"series":"Trend 1993-2023"},{"day":334.3,"pct":-20.11,"series":"Trend 1993-2023"},{"day":335,"pct":-17.02,"series":"Trend 1993-2023"},{"day":336,"pct":-16.46,"series":"Trend 1993-2023"},{"day":337,"pct":-14.12,"series":"Trend 1993-2023"},{"day":337.9,"pct":-13.84,"series":"Trend 1993-2023"},{"day":339.4,"pct":-13.47,"series":"Trend 1993-2023"},{"day":340.3,"pct":-11.59,"series":"Trend 1993-2023"},{"day":341.3,"pct":-9.34,"series":"Trend 1993-2023"},{"day":342.2,"pct":-7.1,"series":"Trend 1993-2023"},{"day":343.2,"pct":-5.22,"series":"Trend 1993-2023"},{"day":344.1,"pct":-3.91,"series":"Trend 1993-2023"},{"day":345.1,"pct":-3.07,"series":"Trend 1993-2023"},{"day":346.3,"pct":-2.23,"series":"Trend 1993-2023"},{"day":347.3,"pct":-1.57,"series":"Trend 1993-2023"},{"day":348.5,"pct":0.39,"series":"Trend 1993-2023"},{"day":349.5,"pct":2.27,"series":"Trend 1993-2023"},{"day":350.4,"pct":4.51,"series":"Trend 1993-2023"},{"day":351.4,"pct":7.88,"series":"Trend 1993-2023"},{"day":352.2,"pct":11.25,"series":"Trend 1993-2023"},{"day":353.1,"pct":12.38,"series":"Trend 1993-2023"},{"day":354.1,"pct":12.0,"series":"Trend 1993-2023"},{"day":355.2,"pct":12.38,"series":"Trend 1993-2023"},{"day":356.4,"pct":13.6,"series":"Trend 1993-2023"},{"day":357.1,"pct":12.38,"series":"Trend 1993-2023"},{"day":358.3,"pct":10.51,"series":"Trend 1993-2023"},{"day":359.2,"pct":11.44,"series":"Trend 1993-2023"},{"day":360.8,"pct":12.1,"series":"Trend 1993-2023"},{"day":362.4,"pct":12.1,"series":"Trend 1993-2023"},{"day":363.4,"pct":11.63,"series":"Trend 1993-2023"},{"day":364.3,"pct":11.16,"series":"Trend 1993-2023"},{"day":365,"pct":10.88,"series":"Trend 1993-2023"}
],
"sig73": [
{"day":147.3,"pct":7.8,"series":"Significant (p < 0.05) 1973-2023"},{"day":252.3,"pct":7.0,"series":"Significant (p < 0.05) 1973-2023"},{"day":253.1,"pct":7.88,"series":"Significant (p < 0.05) 1973-2023"},{"day":254,"pct":8.35,"series":"Significant (p < 0.05) 1973-2023"},{"day":255.5,"pct":8.45,"series":"Significant (p < 0.05) 1973-2023"},{"day":256.9,"pct":8.45,"series":"Significant (p < 0.05) 1973-2023"},{"day":258.3,"pct":7.7,"series":"Significant (p < 0.05) 1973-2023"},{"day":259.3,"pct":7.88,"series":"Significant (p < 0.05) 1973-2023"},{"day":260.3,"pct":9.48,"series":"Significant (p < 0.05) 1973-2023"},{"day":260.9,"pct":10.6,"series":"Significant (p < 0.05) 1973-2023"},{"day":262.2,"pct":11.25,"series":"Significant (p < 0.05) 1973-2023"},{"day":264.1,"pct":11.35,"series":"Significant (p < 0.05) 1973-2023"},{"day":265.1,"pct":10.22,"series":"Significant (p < 0.05) 1973-2023"},{"day":266.2,"pct":9.1,"series":"Significant (p < 0.05) 1973-2023"},{"day":267.5,"pct":9.85,"series":"Significant (p < 0.05) 1973-2023"},{"day":268.9,"pct":9.76,"series":"Significant (p < 0.05) 1973-2023"},{"day":270.3,"pct":9.94,"series":"Significant (p < 0.05) 1973-2023"},{"day":271.8,"pct":10.28,"series":"Significant (p < 0.05) 1973-2023"},{"day":273.2,"pct":10.97,"series":"Significant (p < 0.05) 1973-2023"},{"day":274.6,"pct":11.16,"series":"Significant (p < 0.05) 1973-2023"},{"day":276.5,"pct":11.16,"series":"Significant (p < 0.05) 1973-2023"},{"day":277.9,"pct":10.97,"series":"Significant (p < 0.05) 1973-2023"},{"day":279.4,"pct":10.88,"series":"Significant (p < 0.05) 1973-2023"},{"day":280.4,"pct":10.41,"series":"Significant (p < 0.05) 1973-2023"},{"day":281.4,"pct":9.38,"series":"Significant (p < 0.05) 1973-2023"},{"day":282.3,"pct":7.42,"series":"Significant (p < 0.05) 1973-2023"},{"day":283.8,"pct":7.32,"series":"Significant (p < 0.05) 1973-2023"},{"day":285.5,"pct":5.79,"series":"Significant (p < 0.05) 1973-2023"}
],
"sig93": [
{"day":138.7,"pct":19.5,"series":"Significant (p < 0.05) 1993-2023"},{"day":139.6,"pct":19.5,"series":"Significant (p < 0.05) 1993-2023"},{"day":141.3,"pct":18.1,"series":"Significant (p < 0.05) 1993-2023"},{"day":142.3,"pct":17.9,"series":"Significant (p < 0.05) 1993-2023"},{"day":254.8,"pct":13.2,"series":"Significant (p < 0.05) 1993-2023"},{"day":255.6,"pct":13.7,"series":"Significant (p < 0.05) 1993-2023"},{"day":257.6,"pct":14.6,"series":"Significant (p < 0.05) 1993-2023"},{"day":258.8,"pct":14.8,"series":"Significant (p < 0.05) 1993-2023"},{"day":260.3,"pct":16.0,"series":"Significant (p < 0.05) 1993-2023"},{"day":261.2,"pct":16.5,"series":"Significant (p < 0.05) 1993-2023"},{"day":262.5,"pct":17.4,"series":"Significant (p < 0.05) 1993-2023"},{"day":263.4,"pct":17.8,"series":"Significant (p < 0.05) 1993-2023"},{"day":264.1,"pct":19.0,"series":"Significant (p < 0.05) 1993-2023"},{"day":265.1,"pct":18.8,"series":"Significant (p < 0.05) 1993-2023"},{"day":266,"pct":18.5,"series":"Significant (p < 0.05) 1993-2023"},{"day":267.2,"pct":20.1,"series":"Significant (p < 0.05) 1993-2023"},{"day":268.4,"pct":18.8,"series":"Significant (p < 0.05) 1993-2023"},{"day":269.2,"pct":15.9,"series":"Significant (p < 0.05) 1993-2023"},{"day":270.3,"pct":15.4,"series":"Significant (p < 0.05) 1993-2023"},{"day":271.3,"pct":15.0,"series":"Significant (p < 0.05) 1993-2023"},{"day":272.3,"pct":14.4,"series":"Significant (p < 0.05) 1993-2023"},{"day":273.3,"pct":14.1,"series":"Significant (p < 0.05) 1993-2023"},{"day":274.2,"pct":13.4,"series":"Significant (p < 0.05) 1993-2023"},{"day":276.1,"pct":12.0,"series":"Significant (p < 0.05) 1993-2023"},{"day":277.1,"pct":9.9,"series":"Significant (p < 0.05) 1993-2023"},{"day":333.1,"pct":-21.7,"series":"Significant (p < 0.05) 1993-2023"},{"day":334.3,"pct":-20.1,"series":"Significant (p < 0.05) 1993-2023"}
]
},
"layer": [
{
  "data": {"name": "trend73"},
  "mark": {"type": "line", "strokeWidth": 4.8, "strokeJoin": "round"},
  "encoding": {
    "x": {"field": "day", "type": "quantitative",
      "scale": {"domain": [-17.2, 383.2], "nice": false, "zero": false},
      "axis": {"values": [0,31,59,90,120,151,181,212,243,273,304,334],
        "labelExpr": "['Jan','Feb','Mar','Apr','May','Jun','Jul','Aug','Sep','Oct','Nov','Dec'][indexof([0,31,59,90,120,151,181,212,243,273,304,334], datum.value)]",
        "title": null, "grid": true, "gridColor": "#FFFFFF", "gridDash": [13, 6], "gridWidth": 2.5,
        "ticks": false, "domain": false, "labelFontSize": 64, "labelFont": "Liberation Sans", "labelColor": "#262626",
        "labelPadding": 23, "labelFlush": false, "labelOverlap": false}},
    "y": {"field": "pct", "type": "quantitative",
      "scale": {"domain": [-23.68, 22.02], "nice": false, "zero": false},
      "axis": {"values": [-20,-10,0,10,20], "title": "% per decade",
        "titleFontSize": 64, "titleFont": "Liberation Sans", "titleColor": "#262626", "titleFontWeight": "normal",
        "titleX": -184, "titleY": 407, "titleAngle": 270, "titleAlign": "center", "titleBaseline": "middle",
        "grid": true, "gridColor": "#FFFFFF", "gridDash": [13, 6], "gridWidth": 2.5,
        "ticks": false, "domain": false, "labelFontSize": 64, "labelFont": "Liberation Sans", "labelColor": "#262626",
        "labelPadding": 24}},
    "color": {"field": "series", "type": "nominal",
      "scale": {"domain": ["Trend 1973-2023","Significant (p < 0.05) 1973-2023","Trend 1993-2023","Significant (p < 0.05) 1993-2023"],
                "range": ["#0173B2","#0173B2","#DE8F05","#DE8F05"]},
      "legend": {"title": null, "orient": "none", "legendX": 29, "legendY": 471, "padding": 15,
        "fillColor": "rgba(234,234,242,0.8)", "strokeColor": "#CCCCCC", "cornerRadius": 10,
        "labelFontSize": 53, "labelFont": "Liberation Sans", "labelColor": "#262626", "labelLimit": 2000,
        "symbolSize": 11500, "symbolStrokeWidth": 4.5, "symbolOpacity": 1, "clipHeight": 53,
        "symbolOffset": 2, "labelOffset": 45, "rowPadding": 25}
    },
    "strokeDash": {"field": "series", "type": "nominal",
      "scale": {"domain": ["Trend 1973-2023","Significant (p < 0.05) 1973-2023","Trend 1993-2023","Significant (p < 0.05) 1993-2023"],
                "range": [[1,0],[1,0],[16,7],[1,0]]}}
  }
},
{
  "data": {"name": "sig73"},
  "mark": {"type": "point", "filled": true, "size": 11500, "opacity": 1, "stroke": "#0173B2", "strokeWidth": 4.2},
  "encoding": {
    "x": {"field": "day", "type": "quantitative"},
    "y": {"field": "pct", "type": "quantitative"},
    "color": {"field": "series", "type": "nominal",
      "scale": {"domain": ["Trend 1973-2023","Significant (p < 0.05) 1973-2023","Trend 1993-2023","Significant (p < 0.05) 1993-2023"],
                "range": ["#0173B2","#0173B2","#DE8F05","#DE8F05"]}},
    "shape": {"field": "series", "type": "nominal",
      "scale": {"domain": ["Trend 1973-2023","Significant (p < 0.05) 1973-2023","Trend 1993-2023","Significant (p < 0.05) 1993-2023"],
                "range": ["stroke","M-0.165,0A0.165,0.165,0,1,0,0.165,0A0.165,0.165,0,1,0,-0.165,0Z","stroke","M-0.165,0A0.165,0.165,0,1,0,0.165,0A0.165,0.165,0,1,0,-0.165,0Z"]}}
  }
},
{
  "data": {"name": "trend93"},
  "mark": {"type": "line", "strokeWidth": 4.8, "strokeJoin": "round"},
  "encoding": {
    "x": {"field": "day", "type": "quantitative"},
    "y": {"field": "pct", "type": "quantitative"},
    "color": {"field": "series", "type": "nominal",
      "scale": {"domain": ["Trend 1973-2023","Significant (p < 0.05) 1973-2023","Trend 1993-2023","Significant (p < 0.05) 1993-2023"],
                "range": ["#0173B2","#0173B2","#DE8F05","#DE8F05"]}},
    "strokeDash": {"field": "series", "type": "nominal",
      "scale": {"domain": ["Trend 1973-2023","Significant (p < 0.05) 1973-2023","Trend 1993-2023","Significant (p < 0.05) 1993-2023"],
                "range": [[1,0],[1,0],[16,7],[1,0]]}}
  }
},
{
  "data": {"name": "sig93"},
  "mark": {"type": "point", "filled": true, "size": 11500, "opacity": 1, "stroke": "#DE8F05", "strokeWidth": 4.2},
  "encoding": {
    "x": {"field": "day", "type": "quantitative"},
    "y": {"field": "pct", "type": "quantitative"},
    "color": {"field": "series", "type": "nominal",
      "scale": {"domain": ["Trend 1973-2023","Significant (p < 0.05) 1973-2023","Trend 1993-2023","Significant (p < 0.05) 1993-2023"],
                "range": ["#0173B2","#0173B2","#DE8F05","#DE8F05"]}},
    "shape": {"field": "series", "type": "nominal",
      "scale": {"domain": ["Trend 1973-2023","Significant (p < 0.05) 1973-2023","Trend 1993-2023","Significant (p < 0.05) 1993-2023"],
                "range": ["stroke","M-0.165,0A0.165,0.165,0,1,0,0.165,0A0.165,0.165,0,1,0,-0.165,0Z","stroke","M-0.165,0A0.165,0.165,0,1,0,0.165,0A0.165,0.165,0,1,0,-0.165,0Z"]}}
  }
},
{
  "data": {"values": [{"pct": 0}]},
  "mark": {"type": "rule", "color": "#000000", "strokeWidth": 2.2, "strokeDash": [9, 4]},
  "encoding": {
    "y": {"field": "pct", "type": "quantitative"}
  }
}
]
}
